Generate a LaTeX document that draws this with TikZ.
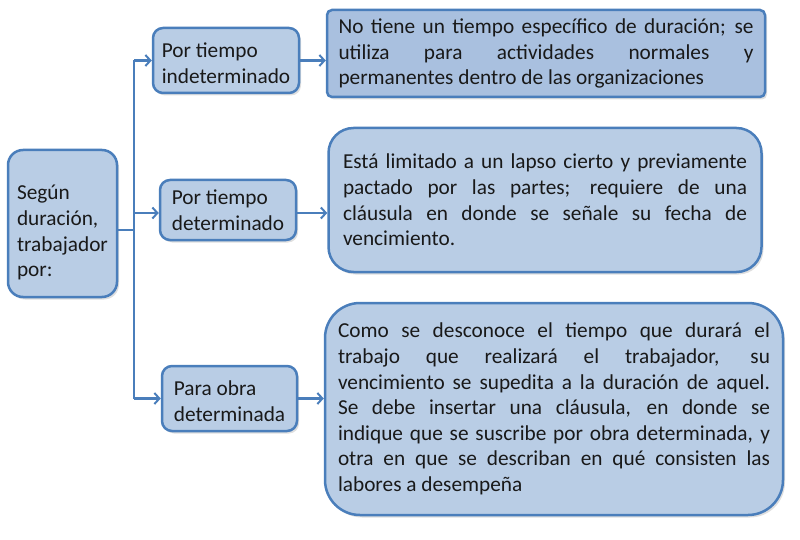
\documentclass[tikz,border=0pt]{standalone}
\usepackage{fontspec}
\setmainfont{Carlito}
\usepackage{tikz}
\usetikzlibrary{arrows.meta,calc,shadows}
\definecolor{boxfill}{HTML}{B9CDE5}
\definecolor{boxfilldark}{HTML}{A9C0DF}
\definecolor{boxline}{HTML}{4A7EBB}

\begin{document}
\begin{tikzpicture}[x=1pt,y=-1pt,
    box/.style={draw=boxline, fill=boxfill, line width=2.5pt, inner sep=0pt,
      font=\fontsize{21.3}{25.6}\selectfont, text=black!90,
      execute at begin node={\hyphenpenalty=10000\tolerance=10000},
      drop shadow={shadow xshift=2pt, shadow yshift=-2.5pt, opacity=0.25}},
    link/.style={draw=boxline, line width=2.5pt},
    arrow/.style={link, -{Straight Barb[length=5pt,width=11pt,line width=2pt]}}
  ]
    \useasboundingbox (0,0) rectangle (800,540);
    %% Root
    \node[box, rounded corners=15pt, minimum width=109pt, minimum height=147pt,
      align=left] (root) at (62.5,223.5)
      {\rule{0pt}{33pt}Según\\duración,\\trabajador\\por:};
    %% Kinds
    \node[box, rounded corners=10pt, minimum width=146pt, minimum height=65pt,
      align=left] (indet) at (226,60.5)
      {\rule{0pt}{20pt}Por tiempo\\indeterminado};
    \node[box, rounded corners=10pt, minimum width=136pt, minimum height=60pt,
      align=left] (det) at (228,210)
      {Por tiempo\\determinado};
    \node[box, rounded corners=10pt, minimum width=135pt, minimum height=65pt,
      align=left] (obra) at (229.5,398.5)
      {\rule{0pt}{20pt}Para obra\\determinada};
    %% Descriptions
    \node[box, fill=boxfilldark, rounded corners=5pt, minimum width=438pt,
      minimum height=87pt, text width=415pt, align=justify] (descindet) at (546,53.5)
      {No tiene un tiempo específico de duración; se\linebreak
       utiliza para actividades normales y\linebreak
       permanentes dentro de las organizaciones};
    \node[box, rounded corners=25pt, minimum width=433pt, minimum height=144pt,
      text width=404pt, align=justify] (descdet) at (545,200)
      {Está limitado a un lapso cierto y previamente\linebreak
       pactado por las partes; requiere de una\linebreak
       cláusula en donde se señale su fecha de\linebreak
       vencimiento.};
    \node[box, rounded corners=35pt, minimum width=458pt, minimum height=212pt,
      text width=432pt, align=justify] (descobra) at (554,409)
      {Como se desconoce el tiempo que durará el\linebreak
       trabajo que realizará el trabajador, su\linebreak
       vencimiento se supedita a la duración de aquel.\linebreak
       Se debe insertar una cláusula, en donde se\linebreak
       indique que se suscribe por obra determinada, y\linebreak
       otra en que se describan en qué consisten las\linebreak
       labores a desempeña};
    %% Connectors
    \coordinate (bus) at (134,230);
    \draw[link] (root.east |- bus) -- (bus);
    \draw[link] (bus |- indet.west) -- (bus |- obra.west);
    \draw[arrow] (bus |- indet.west) -- (indet.west);
    \draw[arrow] ($(bus |- det.west)+(0,3)$) -- ($(det.west)+(0,3)$);
    \draw[arrow] (bus |- obra.west) -- (obra.west);
    \draw[arrow] (indet.east) -- (indet.east -| descindet.west);
    \draw[arrow] ($(det.east)+(0,3)$) -- ($(det.east -| descdet.west)+(0,3)$);
    \draw[arrow] (obra.east) -- (obra.east -| descobra.west);
\end{tikzpicture}
\end{document}
